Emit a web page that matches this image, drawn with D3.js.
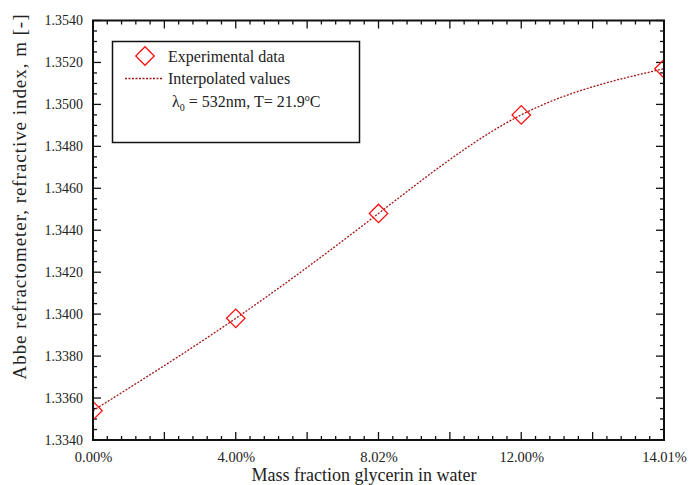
<!DOCTYPE html>
<html>
<head>
<meta charset="utf-8">
<script src="https://cdn.jsdelivr.net/npm/d3@7"></script>
<style>
html,body{margin:0;padding:0;background:#fff;}
svg{display:block;}
svg text{font-family:"Liberation Serif","Times New Roman","DejaVu Serif",serif !important;fill:#222;}
</style>
</head>
<body>
<svg id="chart" width="689" height="485"></svg>
<script>
// Data (x positions are evenly spaced sample slots, labelled by mass fraction)
const positions = [0, 4, 8, 12, 16];
const massLabels = ["0.00%", "4.00%", "8.02%", "12.00%", "14.01%"];
const refractiveIndex = [1.3354, 1.3398, 1.3448, 1.3495, 1.3517];
const yTicks = [1.3340, 1.3360, 1.3380, 1.3400, 1.3420, 1.3440, 1.3460, 1.3480, 1.3500, 1.3520, 1.3540];

const FONT = "'Liberation Serif', 'Times New Roman', 'DejaVu Serif', serif";
const svg = d3.select("#chart").attr("font-family", FONT);
const L = 93, R = 664, T = 20.5, B = 440;
const x = d3.scaleLinear().domain([0, 16]).range([L, R]);
const y = d3.scaleLinear().domain([1.3340, 1.3540]).range([B, T]);

const pts = positions.map((p, i) => [p, refractiveIndex[i]]);

svg.append("defs").append("clipPath").attr("id", "clip")
  .append("rect").attr("x", L).attr("y", T).attr("width", R - L).attr("height", B - T);

const xMinor = d3.range(0, 16.001, 0.4);
const xMajor = d3.range(0, 16.001, 2);
const yMinor = d3.range(1.3340, 1.35401, 0.0005);

const tg = svg.append("g").attr("stroke", "#111").attr("stroke-width", 1.3);
xMinor.forEach(v => {
  const isMaj = xMajor.some(m => Math.abs(m - v) < 1e-6);
  const len = isMaj ? 8 : 4;
  tg.append("line").attr("x1", x(v)).attr("x2", x(v)).attr("y1", B).attr("y2", B - len);
  tg.append("line").attr("x1", x(v)).attr("x2", x(v)).attr("y1", T).attr("y2", T + len);
});
yMinor.forEach(v => {
  const isMaj = yTicks.some(m => Math.abs(m - v) < 1e-7);
  const len = isMaj ? 8 : 4;
  tg.append("line").attr("x1", L).attr("x2", L + len).attr("y1", y(v)).attr("y2", y(v));
  tg.append("line").attr("x1", R).attr("x2", R - len).attr("y1", y(v)).attr("y2", y(v));
});

// interpolated curve
const line = d3.line().x(d => x(d[0])).y(d => y(d[1])).curve(d3.curveNatural);
svg.append("path").datum(pts).attr("d", line)
  .attr("fill", "none").attr("stroke", "#a01818").attr("stroke-width", 1.3)
  .attr("stroke-dasharray", "2,1.5").attr("clip-path", "url(#clip)");

// markers
const sym = d3.symbol().type(d3.symbolSquare).size(170);
svg.append("g").attr("clip-path", "url(#clip)").selectAll("path").data(pts).join("path")
  .attr("d", sym)
  .attr("transform", d => `translate(${x(d[0])},${y(d[1])}) rotate(45)`)
  .attr("fill", "none").attr("stroke", "#ff1010").attr("stroke-width", 1.3);

// frame
svg.append("rect").attr("x", L).attr("y", T).attr("width", R - L).attr("height", B - T)
  .attr("fill", "none").attr("stroke", "#111").attr("stroke-width", 2);

// tick labels via d3 axes
const xAxis = d3.axisBottom(x).tickValues(positions).tickFormat((d, i) => massLabels[i]).tickSize(0).tickPadding(0);
const gx = svg.append("g").attr("transform", `translate(0,${B})`).call(xAxis).attr("font-family", FONT);
gx.select(".domain").remove();
gx.selectAll("text").attr("font-size", 14.5).attr("dy", null).attr("y", 22).attr("fill", "#222");

const yAxis = d3.axisLeft(y).tickValues(yTicks).tickFormat(d3.format(".4f")).tickSize(0).tickPadding(10);
const gy = svg.append("g").attr("transform", `translate(${L},0)`).call(yAxis).attr("font-family", FONT);
gy.select(".domain").remove();
gy.selectAll("text").attr("font-size", 14).attr("dy", "0.32em").attr("fill", "#222");

// axis titles
svg.append("text").attr("x", 364).attr("y", 481).attr("text-anchor", "middle")
  .attr("font-size", 18).text("Mass fraction glycerin in water");
svg.append("text").attr("transform", "translate(26,197) rotate(-90)").attr("text-anchor", "middle")
  .attr("font-size", 19).attr("textLength", 365).attr("lengthAdjust", "spacing")
  .text("Abbe refractometer, refractive index, m [-]");

// legend
const lg = svg.append("g");
lg.append("rect").attr("x", 112.5).attr("y", 41.5).attr("width", 247).attr("height", 101)
  .attr("fill", "#fff").attr("stroke", "#111").attr("stroke-width", 1.5);
lg.append("path").attr("d", sym).attr("transform", "translate(145,56) rotate(45)")
  .attr("fill", "none").attr("stroke", "#ff1010").attr("stroke-width", 1.3);
lg.append("text").attr("x", 168).attr("y", 62).attr("font-size", 16).text("Experimental data");
lg.append("line").attr("x1", 125).attr("x2", 162).attr("y1", 78.5).attr("y2", 78.5)
  .attr("stroke", "#a01818").attr("stroke-width", 1.3).attr("stroke-dasharray", "2,1.5");
lg.append("text").attr("x", 168).attr("y", 84).attr("font-size", 16).text("Interpolated values");
const t3 = lg.append("text").attr("x", 172).attr("y", 107).attr("font-size", 16);
t3.append("tspan").text("λ");
t3.append("tspan").attr("font-size", 10).attr("dy", 4).text("0");
t3.append("tspan").attr("dy", -4).text(" = 532nm, T= 21.9");
t3.append("tspan").attr("font-size", 10).attr("dy", -6).text("o");
t3.append("tspan").attr("dy", 6).text("C");
</script>
</body>
</html>
